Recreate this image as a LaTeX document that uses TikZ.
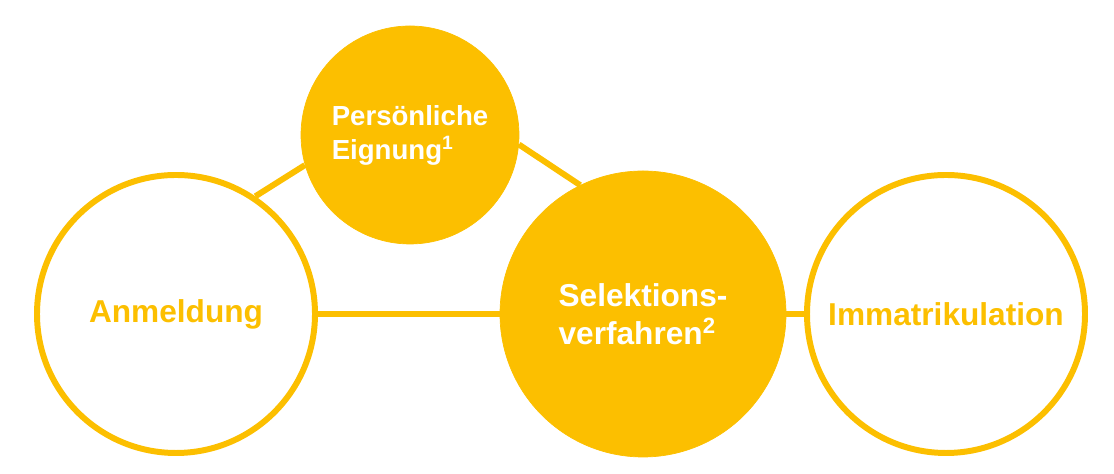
\documentclass[tikz,border=0pt]{standalone}
\usepackage{fontspec}
\setmainfont{Liberation Sans}
\definecolor{gelb}{RGB}{252,191,0}

\begin{document}
\begin{tikzpicture}[scale=1,
    ring/.style={circle, draw=gelb, line width=3.4pt, text=gelb, minimum size=5.56cm, font=\bfseries\fontsize{18}{22}\selectfont},
    disc/.style={circle, draw=gelb, fill=gelb, text=white, align=left, font=\bfseries\fontsize{18}{21.6}\selectfont},
    link/.style={gelb, line width=3.4pt}]
    \useasboundingbox (0,0) rectangle (22.28,9.48);

    \node[ring] (anm) at (3.52,3.20) {Anmeldung};
    \node[disc, minimum size=4.36cm, font=\bfseries\fontsize{15.7}{19.3}\selectfont] (eig) at (8.20,6.78) {Persönliche\\Eignung\textsuperscript{1}};
    \node[disc, minimum size=5.72cm] (sel) at (12.86,3.20) {Selektions-\\verfahren\textsuperscript{2}};
    \node[ring] (imm) at (18.92,3.20) {Immatrikulation};

    \draw[link] (anm.56) -- (eig.196);
    \draw[link] (eig.-5) -- (sel.116);
    \draw[link] (anm) -- (sel);
    \draw[link] (sel) -- (imm);
\end{tikzpicture}
\end{document}
